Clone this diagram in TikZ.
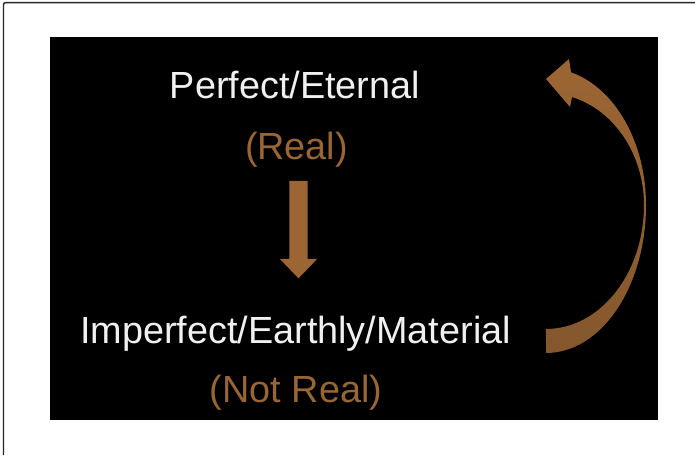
\documentclass[tikz,border=0pt]{standalone}
\usepackage{fontspec}
\setmainfont{Liberation Sans}
\definecolor{brownarrow}{RGB}{156,102,52}
\definecolor{browntext}{RGB}{152,101,52}
\definecolor{lighttext}{RGB}{240,240,240}
\tikzset{
  maintext/.style={text=lighttext, font=\fontsize{37.8}{44}\selectfont, anchor=base, inner sep=0pt},
  subtext/.style={text=browntext, font=\fontsize{37.8}{44}\selectfont, anchor=base, inner sep=0pt},
  arrowfill/.style={fill=brownarrow, draw=none}
}
\begin{document}
\begin{tikzpicture}[x=1pt,y=1pt]
\useasboundingbox (0,0) rectangle (695,455);
\fill[white] (0,0) rectangle (695,455);
% frame
\draw[line width=1.4pt, color=black!85, rounded corners=2pt] (3.5,0) -- (3.5,452.3) -- (695,452.3);
% black panel
\fill[black] (50,35) rectangle (658,418);
% texts
\node[maintext] (perfect) at (295,356) {Perfect/Eternal};
\node[subtext] (real) at (296.5,295) {(Real)};
\node[maintext] (imperfect) at (295.5,112) {Imperfect/Earthly/Material};
\node[subtext] (notreal) at (296,53) {(Not Real)};
% straight down arrow
\coordinate (dtop) at (298.5,274);
\coordinate (dtip) at (298.5,176.7);
\fill[arrowfill] ([xshift=-9.2pt]dtop) -- ([xshift=9.2pt]dtop)
  -- ([xshift=9.2pt,yshift=19.3pt]dtip) -- ([xshift=18.6pt,yshift=19.3pt]dtip)
  -- (dtip) -- ([xshift=-18.6pt,yshift=19.3pt]dtip)
  -- ([xshift=-9.2pt,yshift=19.3pt]dtip) -- cycle;
% curved arrow back up
\coordinate (cstart) at (546,102);
\shade[top color=brownarrow!100, bottom color=brownarrow!85!black, draw=none]
  (cstart) arc[start angle=-90, end angle=0, x radius=100pt, y radius=148pt]
  arc[start angle=0, end angle=75.5, x radius=100pt, y radius=137pt]
  -- (569,396) -- (546,376) -- (570,348) -- (572,358)
  arc[start angle=74.6, end angle=0, x radius=98pt, y radius=112pt]
  arc[start angle=0, end angle=-90, x radius=98pt, y radius=124pt]
  -- cycle;
\end{tikzpicture}
\end{document}
